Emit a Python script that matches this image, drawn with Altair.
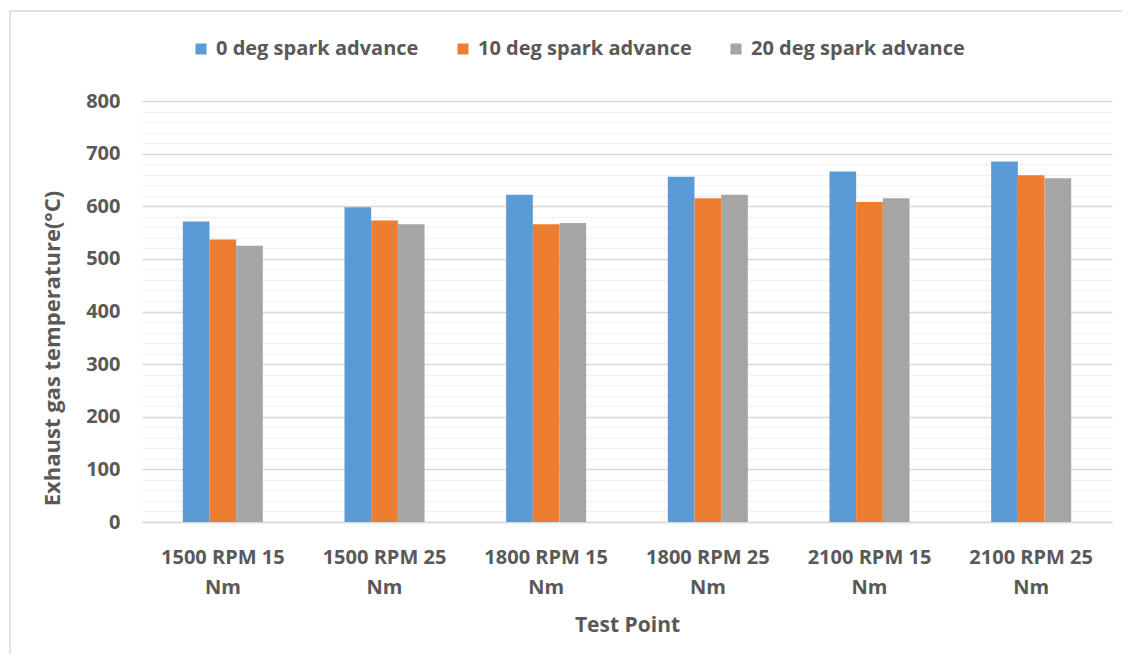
import altair as alt
import pandas as pd

categories = ["1500 RPM 15\nNm", "1500 RPM 25\nNm", "1800 RPM 15\nNm",
              "1800 RPM 25\nNm", "2100 RPM 15\nNm", "2100 RPM 25\nNm"]
series = ["0 deg spark advance", "10 deg spark advance", "20 deg spark advance"]
deg0 = [571, 598, 622, 656, 666, 685]
deg10 = [537, 573, 566, 615, 608, 659]
deg20 = [525, 566, 568, 622, 615, 653]
colors = ["#5B9BD5", "#ED7D31", "#A5A5A5"]

rows = []
for s, vals in zip(series, [deg0, deg10, deg20]):
    for c, v in zip(categories, vals):
        rows.append({"cat": c, "series": s, "value": v})
df = pd.DataFrame(rows)

FONT = "Open Sans"
TXT = "#595959"

bars = alt.Chart(df).mark_bar().encode(
    x=alt.X("cat:N", sort=categories,
            scale=alt.Scale(paddingInner=0.505, paddingOuter=0.2525),
            axis=alt.Axis(title="Test Point", labelAngle=0, ticks=False,
                          domainColor="#D9D9D9", domainWidth=1.5,
                          labelExpr="split(datum.label, '\\n')",
                          labelLineHeight=30, labelPadding=25,
                          labelFont=FONT, labelFontSize=20, labelFontWeight="bold",
                          labelColor=TXT, titleFont=FONT, titleFontSize=21,
                          titleFontWeight="bold", titleColor=TXT, titlePadding=17)),
    xOffset=alt.XOffset("series:N", sort=series),
    y=alt.Y("value:Q",
            scale=alt.Scale(domain=[0, 800], nice=False),
            axis=alt.Axis(title="Exhaust gas temperature(°C)",
                          values=list(range(0, 801, 20)),
                          labelExpr="datum.value % 100 === 0 ? datum.label : ''",
                          labelOverlap=False, ticks=False, domain=False,
                          gridColor={"condition": {"test": "datum.value % 100 === 0", "value": "#D9D9D9"}, "value": "#F2F2F2"},
                          gridWidth=1.5,
                          labelPadding=22, labelFont=FONT, labelFontSize=20,
                          labelFontWeight="bold", labelColor=TXT,
                          titleFont=FONT, titleFontSize=22, titleFontWeight="bold",
                          titleColor=TXT, titleAngle=270, titleX=-90, titleY=247,
                          titleAlign="center", titleBaseline="middle")),
    color=alt.Color("series:N", sort=series,
                    scale=alt.Scale(domain=series, range=colors),
                    legend=alt.Legend(title=None, orient="none", direction="horizontal",
                                      legendX=49, legendY=-62, symbolType="square",
                                      symbolSize=121, symbolStrokeWidth=0,
                                      columnPadding=34, labelOffset=5, labelLimit=0,
                                      labelFont=FONT, labelFontSize=20,
                                      labelFontWeight="bold", labelColor=TXT)),
)

border = alt.Chart(pd.DataFrame({"k": [0]})).mark_rect(
    fill=None, stroke="#D9D9D9", strokeWidth=1.5
).encode(
    x=alt.value(-132), x2=alt.value(1100),
    y=alt.value(-90), y2=alt.value(700)
)

chart = alt.layer(border, bars).properties(
    width=970, height=421,
    autosize=alt.AutoSizeParams(type="none"),
    padding={"left": 134, "top": 93, "right": 10, "bottom": 132},
    background="white"
).configure_view(stroke=None)

chart.save("out.html", embed_options={"renderer": "svg", "actions": False})
